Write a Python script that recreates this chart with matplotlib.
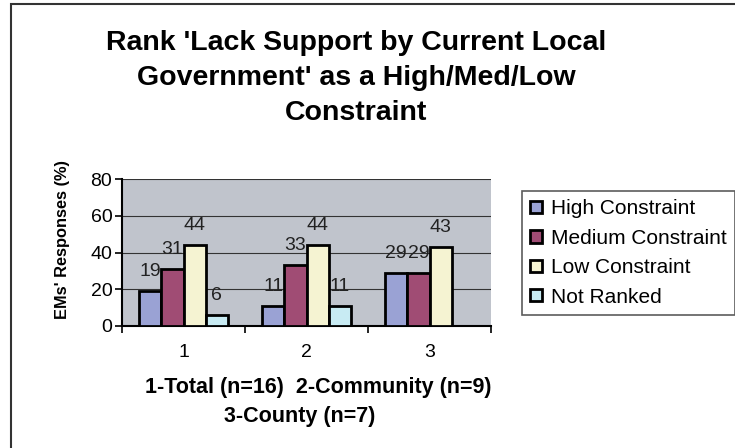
import matplotlib.pyplot as plt
import numpy as np
from matplotlib.patches import Rectangle

plt.rcParams['font.family'] = ['Liberation Sans', 'DejaVu Sans']

# data
categories = ['1', '2', '3']
series = ['High Constraint', 'Medium Constraint', 'Low Constraint', 'Not Ranked']
high = [19, 11, 29]
medium = [31, 33, 29]
low = [44, 44, 43]
not_ranked = [6, 11, 0]
colors = ['#9aa2d4', '#a04c74', '#f5f3d2', '#c8ebf3']

W, H = 735, 448
fig = plt.figure(figsize=(W / 100, H / 100), dpi=100)
fig.patch.set_facecolor('white')

# outer chart border (runs off the right and bottom edges)
fig.patches.append(Rectangle((11 / W, -0.1), 1.2, 1.1 - 4 / H, transform=fig.transFigure,
                             fill=False, edgecolor='#333333', linewidth=1.5))

ax = fig.add_axes([122 / W, 1 - 326 / H, (491 - 122) / W, (326 - 179) / H])
ax.set_facecolor('#c0c4cc')

x = np.arange(len(categories))
bw = 0.18
vals = [high, medium, low, not_ranked]
for i, (name, v, c) in enumerate(zip(series, vals, colors)):
    pos = x + (i - 1.5) * bw
    bars = ax.bar(pos, v, bw, color=c, edgecolor='black', linewidth=2, label=name, zorder=3)
    for b, val in zip(bars, v):
        if val == 0:
            continue
        ax.annotate(str(val), (b.get_x() + b.get_width() / 2, val), xytext=(0, 14),
                    textcoords='offset points', ha='center', va='center',
                    fontsize=14, color='#222222', zorder=4)

ax.set_xlim(-0.5, 2.5)
ax.set_ylim(0, 80)
ax.set_yticks([0, 20, 40, 60, 80])
ax.yaxis.grid(True, color='#333333', linewidth=0.8, zorder=0)
ax.set_xticks([0, 1, 2])
ax.set_xticklabels(categories)
ax.set_xticks([-0.5, 0.5, 1.5, 2.5], minor=True)
ax.tick_params(axis='x', which='major', length=0, pad=13, labelsize=14)
ax.tick_params(axis='x', which='minor', length=5, width=1.2, direction='out')
ax.tick_params(axis='y', length=5, width=1.2, direction='out', labelsize=14, pad=2)
for side in ['top', 'right']:
    ax.spines[side].set_visible(False)
ax.spines['left'].set_linewidth(1.5)
ax.spines['bottom'].set_linewidth(1.5)

fig.text(356 / W, 1 - 78 / H,
         "Rank 'Lack Support by Current Local\nGovernment' as a High/Med/Low\nConstraint",
         ha='center', va='center', fontsize=20.5, fontweight='bold', linespacing=1.45)
fig.text(63 / W, 1 - 239 / H, "EMs' Responses (%)", rotation=90, ha='center', va='center',
         fontsize=11.8, fontweight='bold')
fig.text(318 / W, 1 - 387 / H, "1-Total (n=16)  2-Community (n=9)",
         ha='center', va='center', fontsize=15.5, fontweight='bold')
fig.text(300 / W, 1 - 416 / H, "3-County (n=7)",
         ha='center', va='center', fontsize=15.5, fontweight='bold')

leg = fig.legend(loc='upper left', bbox_to_anchor=(522 / W, 1 - 191 / H), frameon=True,
                 fancybox=False, edgecolor='#333333', fontsize=15, handlelength=0.55,
                 handleheight=0.55, handletextpad=0.45, labelspacing=0.5, borderpad=0.4,
                 borderaxespad=0)
leg.get_frame().set_linewidth(1.2)

fig.savefig('out.png', dpi=100)
